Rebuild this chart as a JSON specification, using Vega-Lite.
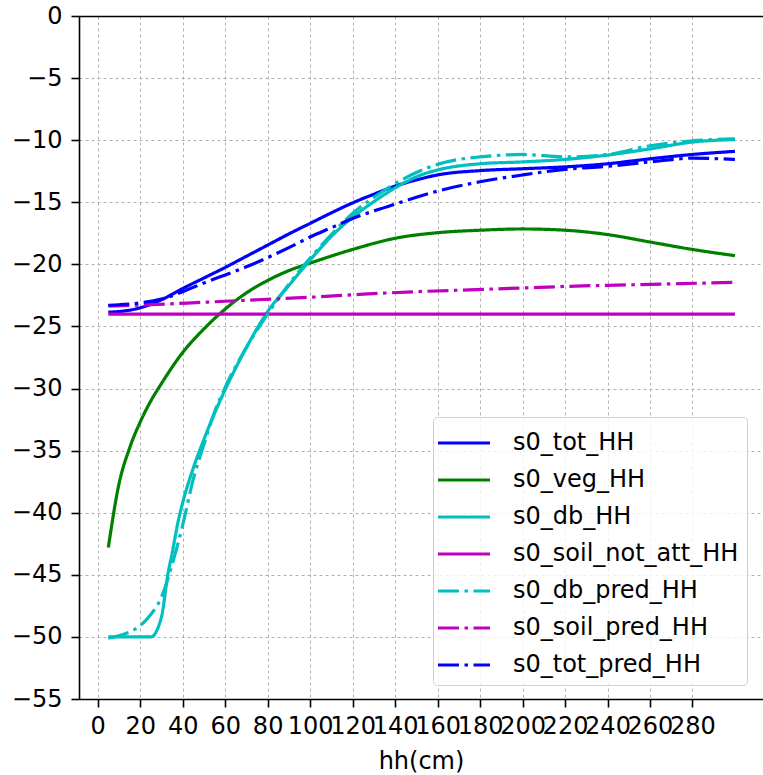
{
  "$schema": "https://vega.github.io/schema/vega-lite/v6.json",
  "width": 684,
  "height": 683,
  "autosize": {"type": "none"},
  "padding": {"left": 79, "top": 16, "right": 0, "bottom": 76},
  "background": "white",
  "config": {
    "view": {"stroke": null},
    "font": "DejaVu Sans",
    "axis": {"labelFont": "DejaVu Sans", "titleFont": "DejaVu Sans"},
    "legend": {"labelFont": "DejaVu Sans"}
  },
  "datasets": {
    "curves": [
      {"hh": 5, "value": -23.85, "series": "s0_tot_HH"},
      {"hh": 10, "value": -23.8, "series": "s0_tot_HH"},
      {"hh": 20, "value": -23.5, "series": "s0_tot_HH"},
      {"hh": 30, "value": -22.85, "series": "s0_tot_HH"},
      {"hh": 40, "value": -21.95, "series": "s0_tot_HH"},
      {"hh": 50, "value": -21.1, "series": "s0_tot_HH"},
      {"hh": 60, "value": -20.25, "series": "s0_tot_HH"},
      {"hh": 70, "value": -19.35, "series": "s0_tot_HH"},
      {"hh": 80, "value": -18.45, "series": "s0_tot_HH"},
      {"hh": 90, "value": -17.55, "series": "s0_tot_HH"},
      {"hh": 100, "value": -16.7, "series": "s0_tot_HH"},
      {"hh": 110, "value": -15.85, "series": "s0_tot_HH"},
      {"hh": 120, "value": -15.05, "series": "s0_tot_HH"},
      {"hh": 130, "value": -14.35, "series": "s0_tot_HH"},
      {"hh": 140, "value": -13.7, "series": "s0_tot_HH"},
      {"hh": 150, "value": -13.2, "series": "s0_tot_HH"},
      {"hh": 160, "value": -12.8, "series": "s0_tot_HH"},
      {"hh": 180, "value": -12.45, "series": "s0_tot_HH"},
      {"hh": 200, "value": -12.3, "series": "s0_tot_HH"},
      {"hh": 220, "value": -12.15, "series": "s0_tot_HH"},
      {"hh": 240, "value": -11.9, "series": "s0_tot_HH"},
      {"hh": 260, "value": -11.5, "series": "s0_tot_HH"},
      {"hh": 280, "value": -11.15, "series": "s0_tot_HH"},
      {"hh": 300, "value": -10.9, "series": "s0_tot_HH"},

      {"hh": 5, "value": -42.8, "series": "s0_veg_HH"},
      {"hh": 10, "value": -37.7, "series": "s0_veg_HH"},
      {"hh": 15, "value": -34.8, "series": "s0_veg_HH"},
      {"hh": 20, "value": -32.7, "series": "s0_veg_HH"},
      {"hh": 25, "value": -31.0, "series": "s0_veg_HH"},
      {"hh": 30, "value": -29.6, "series": "s0_veg_HH"},
      {"hh": 40, "value": -27.1, "series": "s0_veg_HH"},
      {"hh": 50, "value": -25.2, "series": "s0_veg_HH"},
      {"hh": 60, "value": -23.6, "series": "s0_veg_HH"},
      {"hh": 70, "value": -22.3, "series": "s0_veg_HH"},
      {"hh": 80, "value": -21.3, "series": "s0_veg_HH"},
      {"hh": 90, "value": -20.5, "series": "s0_veg_HH"},
      {"hh": 100, "value": -19.9, "series": "s0_veg_HH"},
      {"hh": 120, "value": -18.8, "series": "s0_veg_HH"},
      {"hh": 140, "value": -17.9, "series": "s0_veg_HH"},
      {"hh": 160, "value": -17.45, "series": "s0_veg_HH"},
      {"hh": 180, "value": -17.25, "series": "s0_veg_HH"},
      {"hh": 200, "value": -17.15, "series": "s0_veg_HH"},
      {"hh": 220, "value": -17.25, "series": "s0_veg_HH"},
      {"hh": 240, "value": -17.6, "series": "s0_veg_HH"},
      {"hh": 260, "value": -18.2, "series": "s0_veg_HH"},
      {"hh": 280, "value": -18.8, "series": "s0_veg_HH"},
      {"hh": 300, "value": -19.3, "series": "s0_veg_HH"},

      {"hh": 5, "value": -50, "series": "s0_db_HH"},
      {"hh": 25, "value": -50, "series": "s0_db_HH"},
      {"hh": 30, "value": -48.4, "series": "s0_db_HH"},
      {"hh": 33, "value": -45, "series": "s0_db_HH"},
      {"hh": 35, "value": -43.3, "series": "s0_db_HH"},
      {"hh": 38, "value": -40.6, "series": "s0_db_HH"},
      {"hh": 40, "value": -39.2, "series": "s0_db_HH"},
      {"hh": 45, "value": -36.4, "series": "s0_db_HH"},
      {"hh": 50, "value": -34.1, "series": "s0_db_HH"},
      {"hh": 55, "value": -32, "series": "s0_db_HH"},
      {"hh": 60, "value": -30.1, "series": "s0_db_HH"},
      {"hh": 70, "value": -26.7, "series": "s0_db_HH"},
      {"hh": 80, "value": -23.8, "series": "s0_db_HH"},
      {"hh": 90, "value": -21.7, "series": "s0_db_HH"},
      {"hh": 100, "value": -19.65, "series": "s0_db_HH"},
      {"hh": 110, "value": -17.75, "series": "s0_db_HH"},
      {"hh": 120, "value": -16.2, "series": "s0_db_HH"},
      {"hh": 130, "value": -14.95, "series": "s0_db_HH"},
      {"hh": 140, "value": -13.85, "series": "s0_db_HH"},
      {"hh": 150, "value": -12.95, "series": "s0_db_HH"},
      {"hh": 160, "value": -12.4, "series": "s0_db_HH"},
      {"hh": 180, "value": -11.9, "series": "s0_db_HH"},
      {"hh": 200, "value": -11.75, "series": "s0_db_HH"},
      {"hh": 220, "value": -11.55, "series": "s0_db_HH"},
      {"hh": 240, "value": -11.2, "series": "s0_db_HH"},
      {"hh": 260, "value": -10.7, "series": "s0_db_HH"},
      {"hh": 280, "value": -10.15, "series": "s0_db_HH"},
      {"hh": 300, "value": -9.95, "series": "s0_db_HH"},

      {"hh": 5, "value": -24, "series": "s0_soil_not_att_HH"},
      {"hh": 100, "value": -24, "series": "s0_soil_not_att_HH"},
      {"hh": 200, "value": -24, "series": "s0_soil_not_att_HH"},
      {"hh": 300, "value": -24, "series": "s0_soil_not_att_HH"},

      {"hh": 5, "value": -50.1, "series": "s0_db_pred_HH"},
      {"hh": 10, "value": -49.9, "series": "s0_db_pred_HH"},
      {"hh": 15, "value": -49.6, "series": "s0_db_pred_HH"},
      {"hh": 20, "value": -49.1, "series": "s0_db_pred_HH"},
      {"hh": 25, "value": -48.2, "series": "s0_db_pred_HH"},
      {"hh": 30, "value": -46.8, "series": "s0_db_pred_HH"},
      {"hh": 35, "value": -44.2, "series": "s0_db_pred_HH"},
      {"hh": 40, "value": -41.0, "series": "s0_db_pred_HH"},
      {"hh": 45, "value": -37.3, "series": "s0_db_pred_HH"},
      {"hh": 50, "value": -34.5, "series": "s0_db_pred_HH"},
      {"hh": 55, "value": -31.9, "series": "s0_db_pred_HH"},
      {"hh": 60, "value": -29.9, "series": "s0_db_pred_HH"},
      {"hh": 70, "value": -26.7, "series": "s0_db_pred_HH"},
      {"hh": 80, "value": -24.0, "series": "s0_db_pred_HH"},
      {"hh": 90, "value": -21.6, "series": "s0_db_pred_HH"},
      {"hh": 100, "value": -19.5, "series": "s0_db_pred_HH"},
      {"hh": 110, "value": -17.6, "series": "s0_db_pred_HH"},
      {"hh": 120, "value": -15.9, "series": "s0_db_pred_HH"},
      {"hh": 130, "value": -14.6, "series": "s0_db_pred_HH"},
      {"hh": 140, "value": -13.5, "series": "s0_db_pred_HH"},
      {"hh": 150, "value": -12.6, "series": "s0_db_pred_HH"},
      {"hh": 160, "value": -11.95, "series": "s0_db_pred_HH"},
      {"hh": 170, "value": -11.55, "series": "s0_db_pred_HH"},
      {"hh": 180, "value": -11.35, "series": "s0_db_pred_HH"},
      {"hh": 200, "value": -11.15, "series": "s0_db_pred_HH"},
      {"hh": 220, "value": -11.35, "series": "s0_db_pred_HH"},
      {"hh": 240, "value": -11.15, "series": "s0_db_pred_HH"},
      {"hh": 260, "value": -10.45, "series": "s0_db_pred_HH"},
      {"hh": 280, "value": -10.05, "series": "s0_db_pred_HH"},
      {"hh": 300, "value": -9.9, "series": "s0_db_pred_HH"},

      {"hh": 5, "value": -23.35, "series": "s0_soil_pred_HH"},
      {"hh": 25, "value": -23.25, "series": "s0_soil_pred_HH"},
      {"hh": 50, "value": -23.05, "series": "s0_soil_pred_HH"},
      {"hh": 75, "value": -22.85, "series": "s0_soil_pred_HH"},
      {"hh": 100, "value": -22.65, "series": "s0_soil_pred_HH"},
      {"hh": 125, "value": -22.4, "series": "s0_soil_pred_HH"},
      {"hh": 150, "value": -22.2, "series": "s0_soil_pred_HH"},
      {"hh": 175, "value": -22.05, "series": "s0_soil_pred_HH"},
      {"hh": 200, "value": -21.9, "series": "s0_soil_pred_HH"},
      {"hh": 225, "value": -21.75, "series": "s0_soil_pred_HH"},
      {"hh": 250, "value": -21.65, "series": "s0_soil_pred_HH"},
      {"hh": 275, "value": -21.55, "series": "s0_soil_pred_HH"},
      {"hh": 300, "value": -21.45, "series": "s0_soil_pred_HH"},

      {"hh": 5, "value": -23.3, "series": "s0_tot_pred_HH"},
      {"hh": 10, "value": -23.25, "series": "s0_tot_pred_HH"},
      {"hh": 20, "value": -23.1, "series": "s0_tot_pred_HH"},
      {"hh": 30, "value": -22.8, "series": "s0_tot_pred_HH"},
      {"hh": 40, "value": -22.2, "series": "s0_tot_pred_HH"},
      {"hh": 50, "value": -21.5, "series": "s0_tot_pred_HH"},
      {"hh": 60, "value": -20.85, "series": "s0_tot_pred_HH"},
      {"hh": 70, "value": -20.2, "series": "s0_tot_pred_HH"},
      {"hh": 80, "value": -19.45, "series": "s0_tot_pred_HH"},
      {"hh": 90, "value": -18.65, "series": "s0_tot_pred_HH"},
      {"hh": 100, "value": -17.8, "series": "s0_tot_pred_HH"},
      {"hh": 110, "value": -17.05, "series": "s0_tot_pred_HH"},
      {"hh": 120, "value": -16.3, "series": "s0_tot_pred_HH"},
      {"hh": 130, "value": -15.7, "series": "s0_tot_pred_HH"},
      {"hh": 140, "value": -15.15, "series": "s0_tot_pred_HH"},
      {"hh": 150, "value": -14.6, "series": "s0_tot_pred_HH"},
      {"hh": 160, "value": -14.1, "series": "s0_tot_pred_HH"},
      {"hh": 180, "value": -13.35, "series": "s0_tot_pred_HH"},
      {"hh": 200, "value": -12.8, "series": "s0_tot_pred_HH"},
      {"hh": 220, "value": -12.35, "series": "s0_tot_pred_HH"},
      {"hh": 240, "value": -12.1, "series": "s0_tot_pred_HH"},
      {"hh": 260, "value": -11.75, "series": "s0_tot_pred_HH"},
      {"hh": 280, "value": -11.45, "series": "s0_tot_pred_HH"},
      {"hh": 300, "value": -11.55, "series": "s0_tot_pred_HH"}
    ]
  },
  "data": {"name": "curves"},
  "encoding": {
    "y": {
      "field": "value",
      "type": "quantitative",
      "scale": {"domain": [-55, 0], "nice": false, "zero": false},
      "axis": {
        "values": [-55, -50, -45, -40, -35, -30, -25, -20, -15, -10, -5, 0],
        "title": null,
        "tickSize": 8,
        "tickWidth": 1.6,
        "tickColor": "black",
        "domainColor": "black",
        "domainWidth": 1.6,
        "labelFontSize": 24,
        "labelColor": "black",
        "labelPadding": 9,
        "grid": true,
        "gridColor": "#b0b0b0",
        "gridDash": [3, 3],
        "gridWidth": 1
      }
    }
  },
  "layer": [
    {
      "mark": {"type": "line", "strokeWidth": 3.2, "interpolate": "monotone"},
      "encoding": {
        "x": {
          "field": "hh",
          "type": "quantitative",
          "scale": {"domain": [-8.8, 313.2], "nice": false, "zero": false},
          "axis": {
            "values": [0, 20, 40, 60, 80, 100, 120, 140, 160, 180, 200, 220, 240, 260, 280],
            "title": "hh(cm)",
            "titleFontSize": 24,
            "titleFontWeight": "normal",
            "titleColor": "black",
            "titlePadding": 11,
            "tickSize": 8,
            "tickWidth": 1.6,
            "tickColor": "black",
            "domainColor": "black",
            "domainWidth": 1.6,
            "labelFontSize": 24,
            "labelColor": "black",
            "labelPadding": 7,
            "labelOverlap": false,
            "labelFlush": false,
            "labelBound": false,
            "grid": true,
            "gridColor": "#b0b0b0",
            "gridDash": [3, 3],
            "gridWidth": 1
          }
        },
        "color": {
          "field": "series",
          "type": "nominal",
          "scale": {
            "domain": ["s0_tot_HH", "s0_veg_HH", "s0_db_HH", "s0_soil_not_att_HH", "s0_db_pred_HH", "s0_soil_pred_HH", "s0_tot_pred_HH"],
            "range": ["#0000ff", "#008000", "#00bfbf", "#bf00bf", "#00bfbf", "#bf00bf", "#0000ff"]
          },
          "legend": {
            "title": null,
            "orient": "none",
            "legendX": 354,
            "legendY": 401,
            "symbolType": "M-1.6,0H1.6",
            "symbolSize": 1056,
            "symbolStrokeWidth": 3.2,
            "labelFontSize": 24,
            "labelColor": "black",
            "labelLimit": 400,
            "labelOffset": 31,
            "rowPadding": 7,
            "padding": 8,
            "symbolOffset": 5,
            "strokeColor": "#d0d0d0",
            "fillColor": "rgba(255,255,255,0.8)",
            "cornerRadius": 4
          }
        },
        "strokeDash": {
          "field": "series",
          "type": "nominal",
          "scale": {
            "domain": ["s0_tot_HH", "s0_veg_HH", "s0_db_HH", "s0_soil_not_att_HH", "s0_db_pred_HH", "s0_soil_pred_HH", "s0_tot_pred_HH"],
            "range": [[1, 0], [1, 0], [1, 0], [1, 0], [21, 5.5, 3.5, 5.5], [21, 5.5, 3.5, 5.5], [21, 5.5, 3.5, 5.5]]
          },
          "legend": {
            "title": null,
            "orient": "none",
            "legendX": 354,
            "legendY": 401,
            "symbolType": "M-1.6,0H1.6",
            "symbolSize": 1056,
            "symbolStrokeWidth": 3.2,
            "labelFontSize": 24,
            "labelColor": "black",
            "labelLimit": 400,
            "labelOffset": 31,
            "rowPadding": 7,
            "padding": 8,
            "symbolOffset": 5,
            "strokeColor": "#d0d0d0",
            "fillColor": "rgba(255,255,255,0.8)",
            "cornerRadius": 4
          }
        }
      }
    },
    {
      "mark": {"type": "line", "opacity": 0},
      "encoding": {
        "x": {
          "field": "hh",
          "type": "quantitative",
          "axis": {
            "orient": "top",
            "labels": false,
            "ticks": false,
            "grid": false,
            "title": null,
            "domainColor": "black",
            "domainWidth": 1.6
          }
        },
        "detail": {"field": "series", "type": "nominal"}
      }
    }
  ],
  "resolve": {"axis": {"x": "independent"}}
}
